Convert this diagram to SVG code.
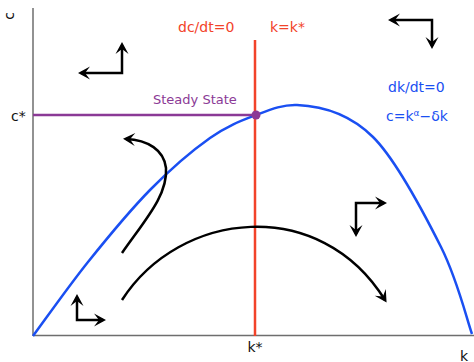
<svg xmlns="http://www.w3.org/2000/svg" width="474" height="362" viewBox="0 0 474 362">
<style>
text{font-family:"DejaVu Sans","Liberation Sans",sans-serif}
.axis{stroke:#6e6e6e;stroke-width:1.5;fill:none}
.blk{stroke:#000;stroke-width:2.5;fill:none;stroke-linejoin:miter}
.lbl{font-size:14px;fill:#111}
.red{fill:#f2432a;font-size:14px}
.blue{fill:#1a4ff2;font-size:14px}
</style>
<defs>
<marker id="ah" markerUnits="userSpaceOnUse" markerWidth="16" markerHeight="16" viewBox="-12 -8 16 16" refX="0" refY="0" orient="auto-start-reverse">
<path d="M3,0 L-9,-6.5 L-4,0 L-9,6.5 Z" fill="#000"/>
</marker>
</defs>
<g id="axes">
<line class="axis" x1="33" y1="8" x2="33" y2="336"/>
<line class="axis" x1="33" y1="335.5" x2="474" y2="335.5"/>
<text class="lbl" transform="translate(14,16) rotate(-90)" text-anchor="middle">c</text>
<text class="lbl" x="11" y="121">c*</text>
<text class="lbl" x="255" y="352" text-anchor="middle">k*</text>
<text class="lbl" x="460" y="361">k</text>
</g>
<g id="dk-locus">
<path d="M33,336 C42.2,323.7 68.5,286.3 88,262 C107.5,237.7 129.7,210.7 150,190 C170.3,169.3 192.3,150.5 210,138 C227.7,125.5 241.5,120.5 256,115 C270.5,109.5 283,104.4 297,105 C320.8,106 349,113.3 373,137 C397,160.7 424.5,214.2 441,247 C457.5,279.8 466.8,319.5 472,334" fill="none" stroke="#1a4ff2" stroke-width="2.5"/>
<text class="blue" x="388" y="92">dk/dt=0</text>
<text class="blue" x="386" y="121">c=k<tspan dy="-5" font-size="9">α</tspan><tspan dy="5">−δk</tspan></text>
</g>
<g id="dc-locus">
<line x1="255" y1="40" x2="255" y2="336" stroke="#f2432a" stroke-width="2.5"/>
<text class="red" x="178" y="32">dc/dt=0</text>
<text class="red" x="270" y="32">k=k*</text>
</g>
<g id="steady-state">
<line x1="33" y1="115" x2="256" y2="115" stroke="#8b3a96" stroke-width="2.5"/>
<circle cx="256" cy="115" r="4.5" fill="#8b3a96"/>
<text x="153" y="104" font-size="13" fill="#8b3a96">Steady State</text>
</g>
<g id="connectors">
<path class="blk" d="M122,253 C145,220 168,195 166,168 C164,150 148,140 126,139" marker-end="url(#ah)"/>
<path class="blk" d="M122,300 C180,210 320,195 385,300" marker-end="url(#ah)"/>
<path class="blk" d="M122,45 L122,73 L81,73" marker-start="url(#ah)" marker-end="url(#ah)"/>
<path class="blk" d="M391,20 L432,20 L432,46" marker-start="url(#ah)" marker-end="url(#ah)"/>
<path class="blk" d="M384,203 L356,203 L356,234" marker-start="url(#ah)" marker-end="url(#ah)"/>
<path class="blk" d="M77,297 L77,320 L103,320" marker-start="url(#ah)" marker-end="url(#ah)"/>
</g>
</svg>
